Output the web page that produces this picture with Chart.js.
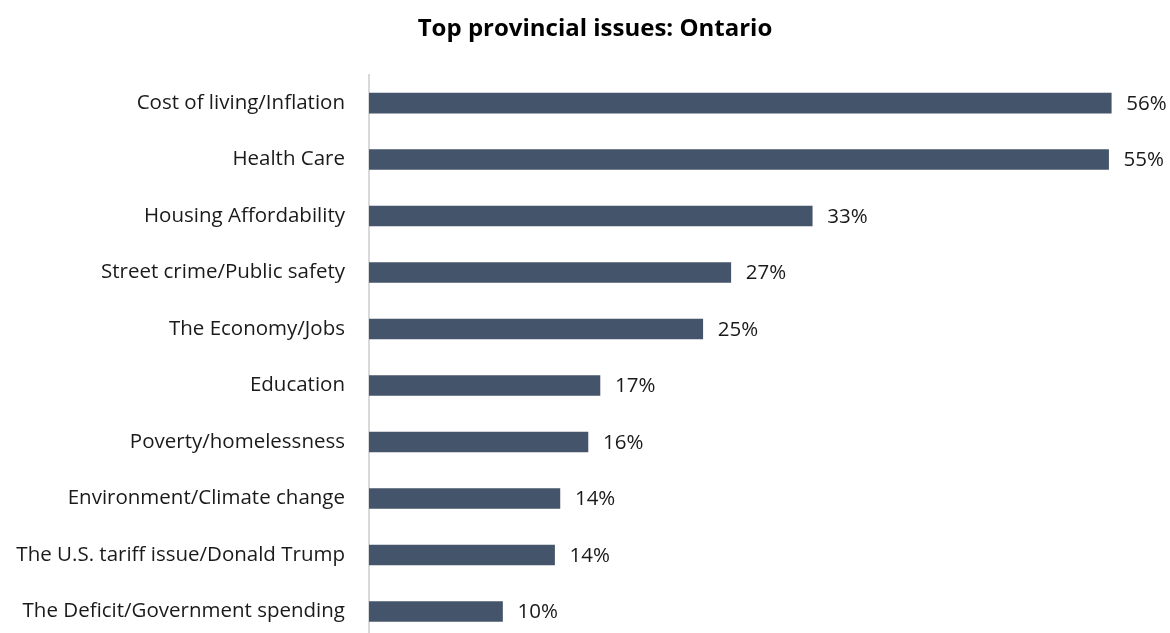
<!DOCTYPE html>
<html>
<head>
<meta charset="utf-8">
<script src="https://cdn.jsdelivr.net/npm/chart.js@4.4.1/dist/chart.umd.min.js"></script>
<style>
  html, body { margin: 0; padding: 0; background: #fff; overflow: hidden; }
</style>
</head>
<body>
<canvas id="issuesChart" width="1170" height="676"></canvas>
<script>
// data (percent of respondents)
const categories = [
  "Cost of living/Inflation",
  "Health Care",
  "Housing Affordability",
  "Street crime/Public safety",
  "The Economy/Jobs",
  "Education",
  "Poverty/homelessness",
  "Environment/Climate change",
  "The U.S. tariff issue/Donald Trump",
  "The Deficit/Government spending"
];
const values = [55.6, 55.4, 33.2, 27.1, 25.0, 17.3, 16.4, 14.3, 13.9, 10.0];

const FONT = "'Open Sans', 'Noto Sans', sans-serif";

// value labels after each bar
const barLabels = {
  id: "barLabels",
  afterDatasetsDraw(chart) {
    const ctx = chart.ctx;
    const meta = chart.getDatasetMeta(0);
    ctx.save();
    ctx.font = "20.5px " + FONT;
    ctx.fillStyle = "#1a1a1a";
    ctx.textAlign = "left";
    ctx.textBaseline = "middle";
    meta.data.forEach(function (bar, i) {
      ctx.fillText(Math.round(values[i]) + "%", bar.x + 15, bar.y + 1);
    });
    ctx.restore();
  }
};

var ctx = document.getElementById("issuesChart").getContext("2d");
var myChart = new Chart(ctx, {
  type: "bar",
  data: {
    labels: categories,
    datasets: [
      {
        data: values,
        backgroundColor: "#44546a",
        borderWidth: 0,
        barThickness: 20
      }
    ]
  },
  options: {
    indexAxis: "y",
    responsive: false,
    animation: false,
    // negative right padding pushes the title centre right, like the original
    layout: { padding: { left: 0, right: -20, top: 0, bottom: 0 } },
    plugins: {
      legend: { display: false },
      tooltip: { enabled: false },
      title: {
        display: true,
        text: "Top provincial issues: Ontario",
        color: "#000",
        font: { family: FONT, size: 24, weight: "bold" },
        padding: { top: 15, bottom: 31 }
      }
    },
    scales: {
      x: {
        display: false,
        min: 0,
        max: 60
      },
      y: {
        afterFit: function (scale) { scale.width = 369; },
        grid: { display: false, drawTicks: false },
        border: { display: true, color: "#d9d9d9", width: 2 },
        ticks: {
          color: "#1a1a1a",
          padding: 24,
          font: { family: FONT, size: 20.5 }
        }
      }
    }
  },
  plugins: [barLabels]
});
</script>
</body>
</html>
